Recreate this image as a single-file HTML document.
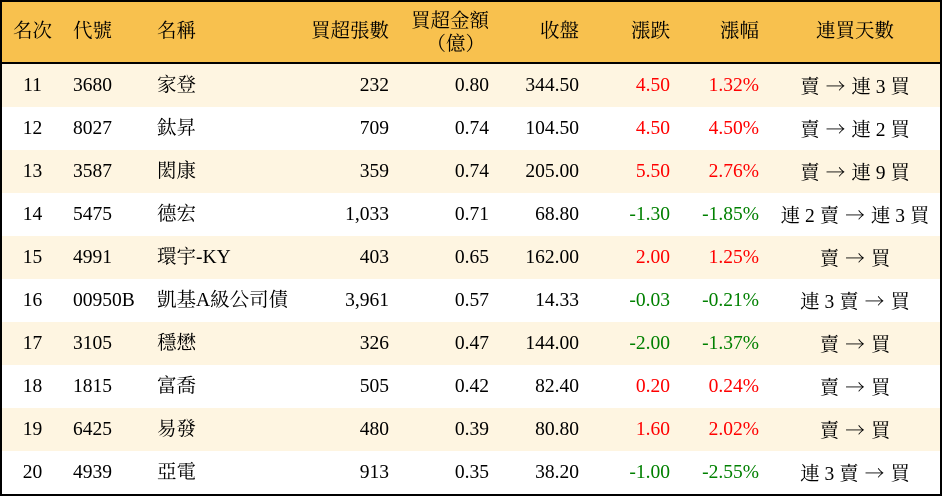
<!DOCTYPE html>
<html><head><meta charset="utf-8"><style>
*{margin:0;padding:0;box-sizing:border-box}
html,body{width:942px;height:496px;overflow:hidden;background:#fff}
body{position:relative;font-family:"Liberation Serif","Noto Serif CJK SC",serif;font-size:19.5px;color:#000}
.frame{position:absolute;left:0;top:0;width:942px;height:496px;border:2px solid #000}
.hdr{position:absolute;left:2px;top:2px;width:938px;height:60px;background:#F8C14E}
.hl{position:absolute;left:0;top:62px;width:942px;height:2px;background:#000}
.row{position:absolute;left:2px;width:938px;height:43px}
.c{background:#FEF5E1}
.row div{position:absolute;top:0;white-space:nowrap;line-height:43px;height:43px}
.a{left:-2px;width:65px;text-align:center}
.b{left:71px}
.n{left:155px}
.d{right:551px}
.e{right:451px}
.f{right:361px}
.g1{right:270px}
.g2{right:181px}
.z{left:768px;width:170px;text-align:center}
.z i{font-style:normal;font-family:"Noto Serif CJK SC",serif;display:inline-block;width:22px;text-align:center}
.h{position:absolute;white-space:nowrap;line-height:20px}
.p{font-family:"Noto Serif CJK SC",serif}
.r{color:#F00}.g{color:#008000}
</style></head><body>
<div class="hdr"></div>
<div class="hl"></div>

<div class="h" style="left:0;width:65px;text-align:center;top:22px">名次</div>
<div class="h" style="left:73px;top:22px">代號</div>
<div class="h" style="left:157px;top:22px">名稱</div>
<div class="h" style="right:553px;top:22px">買超張數</div>
<div class="h" style="right:453px;top:12px;text-align:right">買超金額<br><span class="p" style="margin-right:4px">（億）</span></div>
<div class="h" style="right:363px;top:22px">收盤</div>
<div class="h" style="right:272px;top:22px">漲跌</div>
<div class="h" style="right:183px;top:22px">漲幅</div>
<div class="h" style="left:770px;width:170px;text-align:center;top:22px">連買天數</div>

<div class="row c" style="top:64px"><div class="a">11</div><div class="b">3680</div><div class="n">家登</div><div class="d">232</div><div class="e">0.80</div><div class="f">344.50</div><div class="g1 r">4.50</div><div class="g2 r">1.32%</div><div class="z">賣 <i>→</i> 連 3 買</div></div>
<div class="row" style="top:107px"><div class="a">12</div><div class="b">8027</div><div class="n">鈦昇</div><div class="d">709</div><div class="e">0.74</div><div class="f">104.50</div><div class="g1 r">4.50</div><div class="g2 r">4.50%</div><div class="z">賣 <i>→</i> 連 2 買</div></div>
<div class="row c" style="top:150px"><div class="a">13</div><div class="b">3587</div><div class="n">閎康</div><div class="d">359</div><div class="e">0.74</div><div class="f">205.00</div><div class="g1 r">5.50</div><div class="g2 r">2.76%</div><div class="z">賣 <i>→</i> 連 9 買</div></div>
<div class="row" style="top:193px"><div class="a">14</div><div class="b">5475</div><div class="n">德宏</div><div class="d">1,033</div><div class="e">0.71</div><div class="f">68.80</div><div class="g1 g">-1.30</div><div class="g2 g">-1.85%</div><div class="z">連 2 賣 <i>→</i> 連 3 買</div></div>
<div class="row c" style="top:236px"><div class="a">15</div><div class="b">4991</div><div class="n">環宇-KY</div><div class="d">403</div><div class="e">0.65</div><div class="f">162.00</div><div class="g1 r">2.00</div><div class="g2 r">1.25%</div><div class="z">賣 <i>→</i> 買</div></div>
<div class="row" style="top:279px"><div class="a">16</div><div class="b">00950B</div><div class="n">凱基A級公司債</div><div class="d">3,961</div><div class="e">0.57</div><div class="f">14.33</div><div class="g1 g">-0.03</div><div class="g2 g">-0.21%</div><div class="z">連 3 賣 <i>→</i> 買</div></div>
<div class="row c" style="top:322px"><div class="a">17</div><div class="b">3105</div><div class="n">穩懋</div><div class="d">326</div><div class="e">0.47</div><div class="f">144.00</div><div class="g1 g">-2.00</div><div class="g2 g">-1.37%</div><div class="z">賣 <i>→</i> 買</div></div>
<div class="row" style="top:365px"><div class="a">18</div><div class="b">1815</div><div class="n">富喬</div><div class="d">505</div><div class="e">0.42</div><div class="f">82.40</div><div class="g1 r">0.20</div><div class="g2 r">0.24%</div><div class="z">賣 <i>→</i> 買</div></div>
<div class="row c" style="top:408px"><div class="a">19</div><div class="b">6425</div><div class="n">易發</div><div class="d">480</div><div class="e">0.39</div><div class="f">80.80</div><div class="g1 r">1.60</div><div class="g2 r">2.02%</div><div class="z">賣 <i>→</i> 買</div></div>
<div class="row" style="top:451px"><div class="a">20</div><div class="b">4939</div><div class="n">亞電</div><div class="d">913</div><div class="e">0.35</div><div class="f">38.20</div><div class="g1 g">-1.00</div><div class="g2 g">-2.55%</div><div class="z">連 3 賣 <i>→</i> 買</div></div>

<div class="frame"></div>
</body></html>
